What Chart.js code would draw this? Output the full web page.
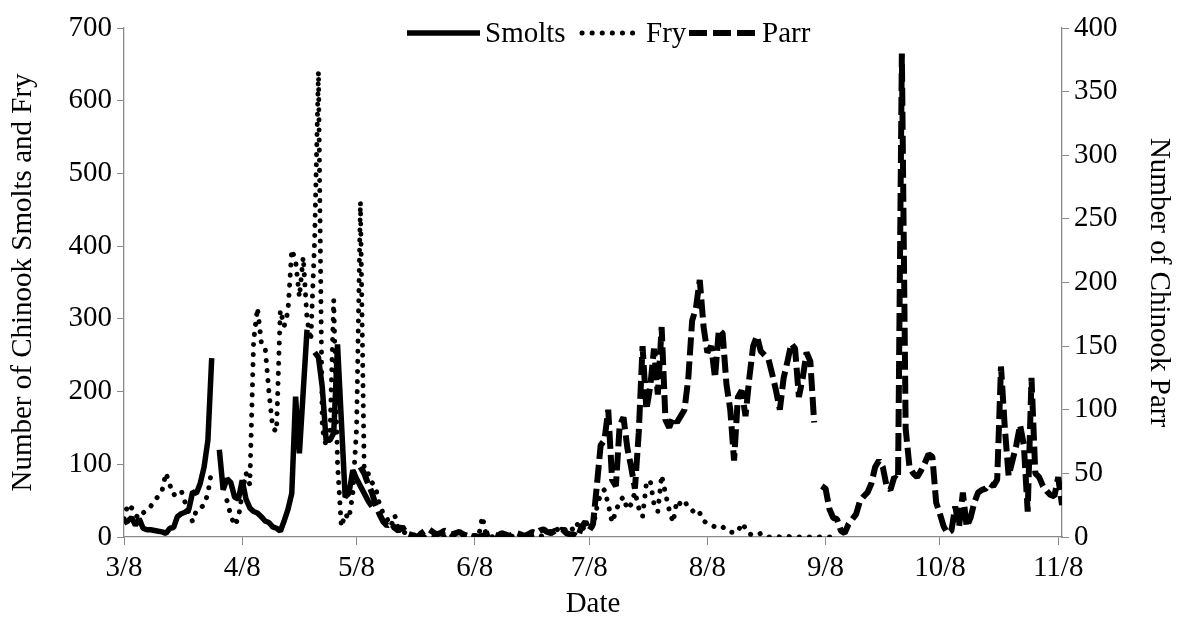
<!DOCTYPE html>
<html>
<head>
<meta charset="utf-8">
<script src="https://cdn.jsdelivr.net/npm/chart.js@4.4.1/dist/chart.umd.min.js"></script>
<style>
html, body { margin:0; padding:0; background:#fff; }
#wrap { width:1180px; height:631px; }
</style>
</head>
<body>
<div id="wrap"><canvas id="chart" width="1180" height="631"></canvas></div>
<script>
// day 0 = 3/8, one value per day, null = no sample
const tickDays   = [0, 31, 61, 92, 122, 153, 184, 214, 245];
const tickLabels = ['3/8', '4/8', '5/8', '6/8', '7/8', '8/8', '9/8', '10/8', '11/8'];

const smoltsStart = 0;
const smolts = [
  19, 22, 27, 16, 25, 12, 10, 10, 9, 8,
  7, 5, 12, 13, 28, 32, 34, 38, 62, 60,
  74, 96, 133, 246, null, 120, 65, 80, 75, 55,
  52, 78, 52, 40, 35, 33, 28, 22, 20, 14,
  12, 8, 22, 38, 60, 193, 115, 200, 285, null,
  254, 247, 206, 133, 133, 143, 265, 160, 55, 60,
  92, 80, 70, 60, 50, 42
];

const fryStart = 0;
const fry = [
  25, 45, 40, 30, 26, 33, 38, 42, 50, 56,
  64, 88, 72, 58, 60, 64, 48, 33, 21, 37,
  40, 44, 60, 92, null, null, null, 50, 30, 16,
  26, 60, 88, 72, 270, 315, 268, 262, 200, 150,
  145, 312, 290, 310, 395, 380, 330, 385, 300, 270,
  410, 640, 150, 125, 135, 326, 100, 14, 32, 25,
  60, 150, 461, 90, 88, 75, 68, 45, 32, 25,
  15, 30, 10, 8, 5, 4, 3, 2, 1, 0,
  2, 1, 0, 0, 1, 2, 1, 0, 0, 1,
  0, 0, 2, 1, 28, 2, 1, 0, 0, 1,
  0, 2, 1, 0, 0, 1, 0, 2, 3, 1,
  2, 5, 8, 14, 8, 6, 12, 15, 8, 18,
  10, 15, 12, 14, 40, 60, 65, 45, 20, 35,
  50, 55, 38, 45, 62, 40, 28, 74, 78, 45,
  35, 85, 60, 37, 20, 50, 45, 50, 40, 37,
  30, 33, 22, 19, 16, 14, 12, 14, 9, 7,
  6, 7, 19, 12, 4, 3, 2, 5, 2, 0,
  0, 1, 0, 0, 1, 0, 0, 0, 0, 0,
  0, 0, 0, 0, 0, 0, 0
];

const parrStart = 62;
const parr = [
  55, 50, 42, 35, 25, 18, 12, 9,
  11, 7, 5, 8, 3, 2, 1, 0, 3, 5,
  6, 4, 2, 3, 5, 4, 2, 3, 4, 2,
  1, 0, 1, 0, 1, 2, 3, 2, 1, 3,
  2, 1, 2, 3, 2, 1, 2, 4, 3, 5,
  6, 4, 3, 5, 4, 6, 3, 2, 2, 0,
  8, 12, 5, 10, 40, 72, 76, 100, 45, 40,
  88, 94, 70, 55, 38, 82, 150, 100, 118, 148,
  112, 165, 92, 86, 94, 90, 95, 100, 125, 170,
  180, 202, 165, 145, 150, 125, 163, 160, 120, 100,
  60, 110, 115, 95, 125, 150, 158, 146, 143, 140,
  128, 115, 100, 125, 138, 152, 148, 110, 125, 145,
  138, 90, null, 40, 38, 22, 15, 14, 5, 3,
  10, 14, 18, 28, 32, 35, 42, 55, 60, 55,
  40, 37, 47, 45, 380, 85, 55, 50, 47, 52,
  58, 65, 63, 27, 18, 8, 3, 5, 24, 8,
  35, 8, 15, 27, 35, 37, 38, 42, 40, 45,
  134, 86, 48, 60, 72, 88, 72, 20, 125, 50,
  47, 40, 36, 33, 32, 47, 25
];

const toPoints = (arr, start) => arr.map((v, i) => ({ x: start + i, y: v }));

const axisGray = '#8a8a8a';
const serif = "'Liberation Serif', 'Times New Roman', serif";
const font = { family: serif, size: 29 };

// legend drawn inside the plot like the excel original
const legendPlugin = {
  id: 'insideLegend',
  afterDraw(chart) {
    const ctx = chart.ctx;
    const items = [
      { ds: 0, x0: 407, x1: 480, tx: 485 },
      { ds: 1, x0: 582, x1: 641, tx: 646 },
      { ds: 2, x0: 689, x1: 757, tx: 762 }
    ];
    const y = 33;
    ctx.save();
    items.forEach(it => {
      const d = chart.data.datasets[it.ds];
      ctx.beginPath();
      ctx.strokeStyle = '#000';
      ctx.lineWidth = d.borderWidth;
      ctx.lineCap = d.borderCapStyle || 'butt';
      ctx.setLineDash(d.borderDash || []);
      ctx.moveTo(it.x0, y);
      ctx.lineTo(it.x1, y);
      ctx.stroke();
      ctx.setLineDash([]);
      ctx.fillStyle = '#000';
      ctx.font = font.size + 'px ' + serif;
      ctx.textBaseline = 'middle';
      ctx.textAlign = 'left';
      ctx.fillText(d.label, it.tx, y + 1);
    });
    ctx.restore();
  }
};

new Chart(document.getElementById('chart').getContext('2d'), {
  type: 'line',
  data: {
    datasets: [
      {
        label: 'Smolts', data: toPoints(smolts, smoltsStart), yAxisID: 'y',
        borderColor: '#000', borderWidth: 5.5, borderJoinStyle: 'bevel', borderCapStyle: 'butt'
      },
      {
        label: 'Fry', data: toPoints(fry, fryStart), yAxisID: 'y',
        borderColor: '#000', borderWidth: 5, borderDash: [0.1, 10], borderCapStyle: 'round'
      },
      {
        label: 'Parr', data: toPoints(parr, parrStart), yAxisID: 'y1',
        borderColor: '#000', borderWidth: 6, borderDash: [18, 6], borderCapStyle: 'butt', borderJoinStyle: 'bevel'
      }
    ]
  },
  options: {
    responsive: false,
    animation: false,
    devicePixelRatio: 1,
    layout: { padding: { top: 28, left: 0, right: 0, bottom: 0 } },
    elements: { point: { radius: 0 }, line: { tension: 0 } },
    spanGaps: false,
    plugins: { legend: { display: false }, tooltip: { enabled: false } },
    scales: {
      x: {
        type: 'linear', min: 0, max: 246,
        afterBuildTicks: s => { s.ticks = tickDays.map(v => ({ value: v })); },
        afterFit: s => { s.height = 94; },
        ticks: {
          callback: (v, i) => tickLabels[i], font, color: '#000',
          padding: 6, maxRotation: 0, autoSkip: false
        },
        grid: { drawOnChartArea: false, drawTicks: true, tickLength: 8, color: axisGray },
        border: { color: axisGray, width: 1.3 },
        // bottom titles are offset by padding.bottom
        title: { display: true, text: 'Date', font, color: '#000', padding: { top: 0, bottom: 9 } }
      },
      y: {
        position: 'left', min: 0, max: 700,
        afterFit: s => { s.width = 124; },
        ticks: { stepSize: 100, font, color: '#000', padding: 5 },
        grid: { drawOnChartArea: false, drawTicks: true, tickLength: 7, color: axisGray },
        border: { color: axisGray, width: 1.3 },
        title: { display: true, text: 'Number of Chinook Smolts and Fry', font, color: '#000', padding: { top: 6, bottom: 0 } }
      },
      y1: {
        position: 'right', min: 0, max: 400,
        afterFit: s => { s.width = 118; },
        ticks: { stepSize: 50, font, color: '#000', padding: 5 },
        grid: { drawOnChartArea: false, drawTicks: true, tickLength: 7, color: axisGray },
        border: { color: axisGray, width: 1.3 },
        title: { display: true, text: 'Number of Chinook Parr', font, color: '#000', padding: { top: 4, bottom: 0 } }
      }
    }
  },
  plugins: [legendPlugin]
});
</script>
</body>
</html>
